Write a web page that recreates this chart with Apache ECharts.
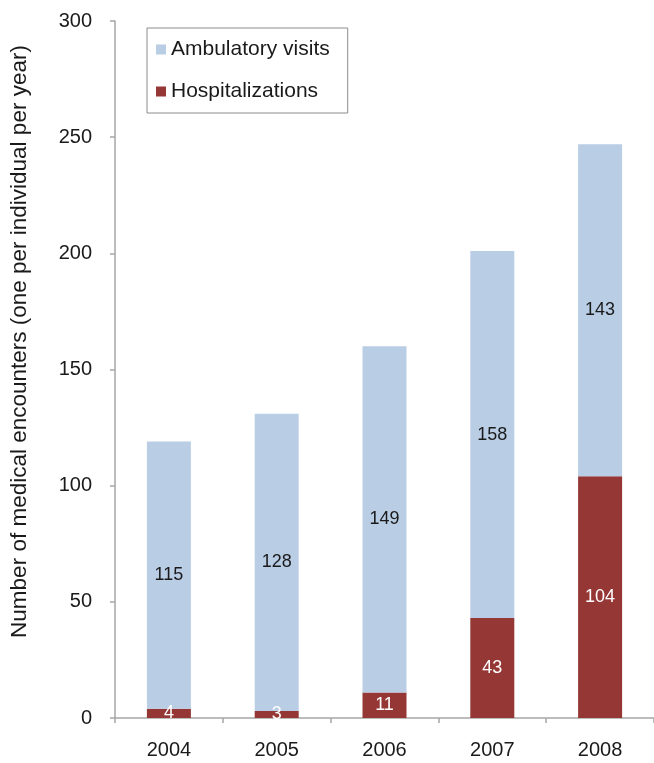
<!DOCTYPE html>
<html>
<head>
<meta charset="utf-8">
<script src="https://cdn.jsdelivr.net/npm/echarts@6/dist/echarts.min.js"></script>
<style>
  html, body { margin: 0; padding: 0; background: #fff; }
  #chart { width: 654px; height: 763px; }
</style>
</head>
<body>
<div id="chart"></div>
<script>
// Medical encounters per year, split by type
const years = ['2004', '2005', '2006', '2007', '2008'];
const hospitalizations = [4, 3, 11, 43, 104];
const ambulatoryVisits = [115, 128, 149, 158, 143];
const yTicks = { min: 0, max: 300, interval: 50 };

const FONT = '"Liberation Sans", Arial, sans-serif';
const AXIS_GREY = '#a6a6a6';

const chart = echarts.init(document.getElementById('chart'), null, { renderer: 'canvas' });

chart.setOption({
  animation: false,
  textStyle: { fontFamily: FONT },
  grid: { left: 112, top: 21, width: 549, height: 697 },
  legend: {
    orient: 'vertical',
    left: 147,
    top: 28,
    data: ['Ambulatory visits', 'Hospitalizations'],
    icon: 'rect',
    itemWidth: 10,
    itemHeight: 10,
    itemGap: 21,
    padding: [11, 18, 11, 9],
    borderColor: '#8c8c8c',
    borderWidth: 1,
    textStyle: { fontFamily: FONT, fontSize: 21, color: '#1a1a1a' }
  },
  xAxis: {
    type: 'category',
    data: years,
    axisLine: { lineStyle: { color: AXIS_GREY, width: 1.5 } },
    axisTick: { show: true, length: 5, lineStyle: { color: AXIS_GREY, width: 1.5 } },
    axisLabel: { fontSize: 20, color: '#1a1a1a', margin: 22, fontFamily: FONT }
  },
  yAxis: {
    type: 'value',
    min: yTicks.min,
    max: yTicks.max,
    interval: yTicks.interval,
    name: 'Number of medical encounters (one per individual per year)',
    nameLocation: 'middle',
    nameGap: 84,
    nameTextStyle: {
      fontSize: 22.5,
      color: '#1a1a1a',
      fontFamily: FONT,
      padding: [0, 0, 0, 56]
    },
    splitLine: { show: false },
    axisLine: { show: true, lineStyle: { color: AXIS_GREY, width: 1.5 } },
    axisTick: { show: true, length: 5, lineStyle: { color: AXIS_GREY, width: 1.5 } },
    axisLabel: { fontSize: 20, color: '#1a1a1a', margin: 23, fontFamily: FONT }
  },
  series: [
    {
      name: 'Hospitalizations',
      type: 'bar',
      stack: 'total',
      data: hospitalizations,
      barWidth: 44,
      itemStyle: { color: '#953735' },
      label: {
        show: true,
        position: 'inside',
        color: '#ffffff',
        fontSize: 18,
        fontFamily: FONT
      },
      labelLayout: { hideOverlap: false }
    },
    {
      name: 'Ambulatory visits',
      type: 'bar',
      stack: 'total',
      data: ambulatoryVisits,
      barWidth: 44,
      itemStyle: { color: '#b9cde5' },
      label: {
        show: true,
        position: 'inside',
        color: '#1a1a1a',
        fontSize: 18,
        fontFamily: FONT
      }
    }
  ]
});
</script>
</body>
</html>
